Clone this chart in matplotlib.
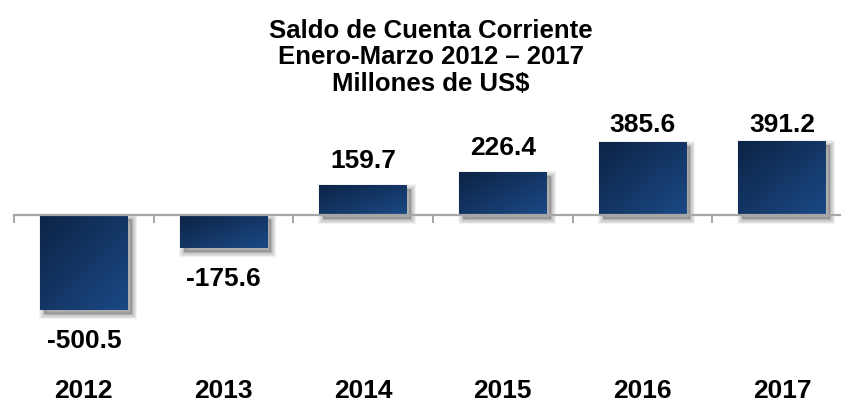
import numpy as np
import matplotlib
matplotlib.use("Agg")
import matplotlib.pyplot as plt
import matplotlib.transforms as mtransforms
from matplotlib.colors import LinearSegmentedColormap
from matplotlib.patches import Rectangle

# --- data ---
years = ["2012", "2013", "2014", "2015", "2016", "2017"]
saldo = [-500.5, -175.6, 159.7, 226.4, 385.6, 391.2]
value_labels = ["-500.5", "-175.6", "159.7", "226.4", "385.6", "391.2"]
title_lines = ["Saldo de Cuenta Corriente", "Enero-Marzo 2012 \u2013 2017", "Millones de US$"]

plt.rcParams['font.family'] = ['Liberation Sans', 'DejaVu Sans']

fig = plt.figure(figsize=(8.41, 4.03), dpi=100)
# axis runs off the right edge like the original slide
ax = fig.add_axes([14 / 841, 74 / 403, 838 / 841, 228 / 403])
y_lo, y_hi = -600, 600
px_per_unit = 228 / (y_hi - y_lo)

bar_w = 0.63
navy = LinearSegmentedColormap.from_list("navy", ["#0c2345", "#1b4985"])
gx, gy = np.meshgrid(np.linspace(0, 1, 60), np.linspace(0, 1, 60))
grad = (gx + gy) / 2  # dark top-left -> lighter bottom-right

bars = ax.bar(range(len(years)), saldo, width=bar_w, color='none', zorder=3)

# soft drop shadow, offset right/down
shadow_tr = mtransforms.offset_copy(ax.transData, fig=fig, x=4, y=-4, units='dots')
for b in bars:
    x0, y0, w, h = b.get_x(), b.get_y(), b.get_width(), b.get_height()
    for k in range(1, 7):
        ax.add_patch(Rectangle((x0, y0), w, h, transform=shadow_tr,
                               facecolor='#000000', edgecolor='#000000',
                               linewidth=k * 1.2, alpha=0.045, zorder=2))

# gradient fill clipped to each bar
for b in bars:
    x0, y0, w, h = b.get_x(), b.get_y(), b.get_width(), b.get_height()
    ylo, yhi = min(y0, y0 + h), max(y0, y0 + h)
    im = ax.imshow(grad, cmap=navy, extent=(x0, x0 + w, ylo, yhi),
                   origin='upper', aspect='auto', zorder=3, interpolation='bilinear')
    im.set_clip_path(b)

ax.set_xlim(-0.5, 5.5)
ax.set_ylim(y_lo, y_hi)

# axis line at zero with tick marks between categories
for s in ['top', 'right', 'left']:
    ax.spines[s].set_visible(False)
ax.spines['bottom'].set_position(('data', 0))
ax.spines['bottom'].set_color('#a6a6a6')
ax.spines['bottom'].set_linewidth(1.6)
ax.spines['bottom'].set_zorder(4)
ax.set_xticks(np.arange(-0.5, 6.0, 1.0))
ax.tick_params(axis='x', length=6, width=1.4, color='#a6a6a6', labelbottom=False)
ax.set_yticks([])
ax.patch.set_alpha(0)

# value labels (top ones get pushed down against the plot-area ceiling)
label_ceiling = y_lo + 197 / px_per_unit
for i, (v, lbl) in enumerate(zip(saldo, value_labels)):
    if v > 0:
        ly = min(v + 17 / px_per_unit, label_ceiling)
    else:
        ly = v - 38 / px_per_unit
    ax.text(i, ly, lbl, ha='center', va='baseline', fontsize=19,
            fontweight='bold', color='black')

# category labels along the bottom
blend = mtransforms.blended_transform_factory(ax.transData, fig.transFigure)
for i, yr in enumerate(years):
    ax.text(i, 5 / 403, yr, transform=blend, ha='center', va='baseline',
            fontsize=19, fontweight='bold', color='black', clip_on=False)

fig.text(431 / 841, 1 - 19 / 403, "\n".join(title_lines), ha='center', va='top',
         fontsize=18.5, fontweight='bold', linespacing=1.12)

fig.savefig("out.png", dpi=100)
